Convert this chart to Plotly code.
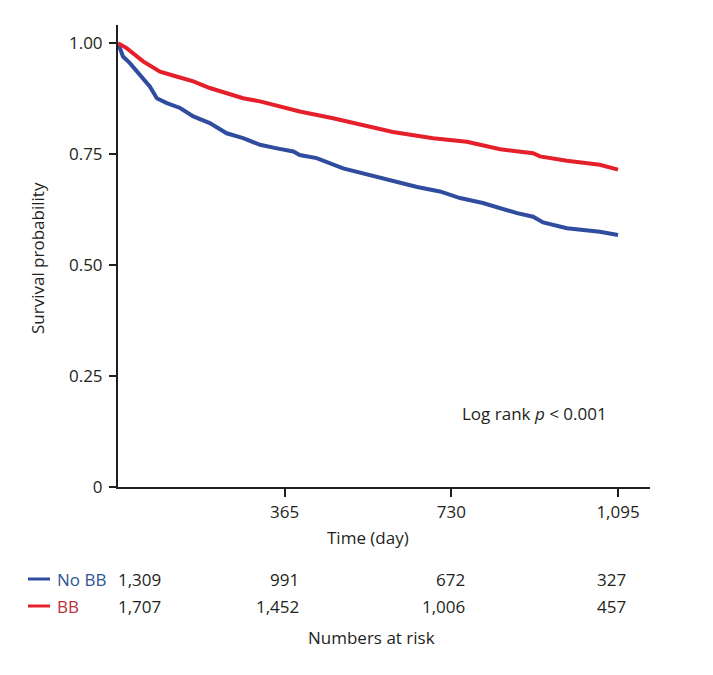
import plotly.graph_objects as go

# ---- data ----
days_nobb = [0, 11, 26, 48, 70, 85, 107, 136, 165, 201, 238, 274, 311, 348, 384, 398,
             435, 493, 545, 602, 655, 705, 749, 799, 837, 874, 909, 931, 983, 1055, 1095]
surv_nobb = [1.000, 0.970, 0.955, 0.929, 0.902, 0.876, 0.865, 0.854, 0.835, 0.820, 0.797,
             0.786, 0.771, 0.763, 0.756, 0.748, 0.741, 0.718, 0.704, 0.689, 0.676, 0.666,
             0.651, 0.640, 0.628, 0.617, 0.609, 0.596, 0.583, 0.575, 0.568]

days_bb = [0, 19, 55, 92, 128, 165, 201, 238, 274, 311, 348, 384, 398, 471, 545, 602,
           690, 764, 837, 909, 924, 983, 1055, 1095]
surv_bb = [1.000, 0.989, 0.959, 0.936, 0.925, 0.914, 0.899, 0.888, 0.876, 0.869, 0.859,
           0.850, 0.846, 0.831, 0.813, 0.800, 0.786, 0.778, 0.761, 0.752, 0.745, 0.735,
           0.726, 0.715]

x_ticks = [365, 730, 1095]
x_tick_labels = ["365", "730", "1,095"]
y_ticks = [0, 0.25, 0.5, 0.75, 1.0]
y_tick_labels = ["0", "0.25", "0.50", "0.75", "1.00"]

risk_groups = ["No BB", "BB"]
risk_nobb = ["1,309", "991", "672", "327"]
risk_bb = ["1,707", "1,452", "1,006", "457"]

BLUE = "#2f4c9e"
RED = "#e5202b"
BLUE_TXT = "#2e5596"
RED_TXT = "#b8303c"
INK = "#231f20"
FONT = "Open Sans"
FS = 17

# ---- layout geometry (pixels, in page coordinates; page has an 8px body margin) ----
OFF = 8
W, H = 713 - OFF, 675 - OFF
L, R, T, B = 118 - OFF, 63, 25 - OFF, 188
pw = W - L - R
ph = H - T - B


def px(x):
    return (x - OFF - L) / pw


def py(y):
    return (H - B - (y - OFF)) / ph


fig = go.Figure()
fig.add_trace(go.Scatter(x=days_nobb, y=surv_nobb, mode="lines", name="No BB",
                         line=dict(color=BLUE, width=4), showlegend=False))
fig.add_trace(go.Scatter(x=days_bb, y=surv_bb, mode="lines", name="BB",
                         line=dict(color=RED, width=4), showlegend=False))

fig.update_layout(
    width=W, height=H,
    margin=dict(l=L, r=R, t=T, b=B, autoexpand=False),
    paper_bgcolor="white", plot_bgcolor="white",
    font=dict(family=FONT, size=FS, color=INK),
    xaxis=dict(range=[0, 1165], tickvals=x_ticks, ticktext=x_tick_labels,
               showgrid=False, zeroline=False, showline=True, linecolor=INK,
               linewidth=2, ticks="outside", ticklen=8, tickwidth=2, tickcolor=INK,
               ticklabelstandoff=1, tickfont=dict(size=FS, color=INK)),
    yaxis=dict(range=[0, 1.041], tickvals=y_ticks, ticktext=y_tick_labels,
               showgrid=False, zeroline=False, showline=True, linecolor=INK,
               linewidth=2, ticks="outside", ticklen=7, tickwidth=2, tickcolor=INK,
               ticklabelstandoff=3, tickfont=dict(size=FS, color=INK)),
)

ann = []
ann.append(dict(x=px(38), y=py(258), xref="paper", yref="paper", text="Survival probability",
                showarrow=False, xanchor="center", yanchor="middle", textangle=-90,
                font=dict(size=FS, color=INK)))
ann.append(dict(x=px(368), y=py(537), xref="paper", yref="paper", text="Time (day)",
                showarrow=False, xanchor="center", yanchor="middle",
                font=dict(size=FS, color=INK)))
ann.append(dict(x=px(534), y=py(413), xref="paper", yref="paper",
                text="Log rank <i>p</i> < 0.001", showarrow=False,
                xanchor="center", yanchor="middle", font=dict(size=FS, color=INK)))
ann.append(dict(x=px(371), y=py(637), xref="paper", yref="paper", text="Numbers at risk",
                showarrow=False, xanchor="center", yanchor="middle",
                font=dict(size=FS, color=INK)))

rows_y = [579, 606]
group_colors = [BLUE, RED]
group_txt = [BLUE_TXT, RED_TXT]
for name, vals, ry, lc, tc in zip(risk_groups, [risk_nobb, risk_bb], rows_y, group_colors, group_txt):
    fig.add_shape(type="line", xref="paper", yref="paper",
                  x0=px(28), x1=px(50), y0=py(ry), y1=py(ry),
                  line=dict(color=lc, width=3))
    ann.append(dict(x=px(55), y=py(ry), xref="paper", yref="paper", text=name,
                    showarrow=False, xanchor="left", yanchor="middle",
                    font=dict(size=FS, color=tc)))
    ann.append(dict(x=px(116), y=py(ry), xref="paper", yref="paper", text=vals[0],
                    showarrow=False, xanchor="left", yanchor="middle",
                    font=dict(size=FS, color=INK)))
    for v, rx in zip(vals[1:], [301, 467, 628]):
        ann.append(dict(x=px(rx), y=py(ry), xref="paper", yref="paper", text=v,
                        showarrow=False, xanchor="right", yanchor="middle",
                        font=dict(size=FS, color=INK)))

fig.update_layout(annotations=ann)
fig.write_html("out.html")
